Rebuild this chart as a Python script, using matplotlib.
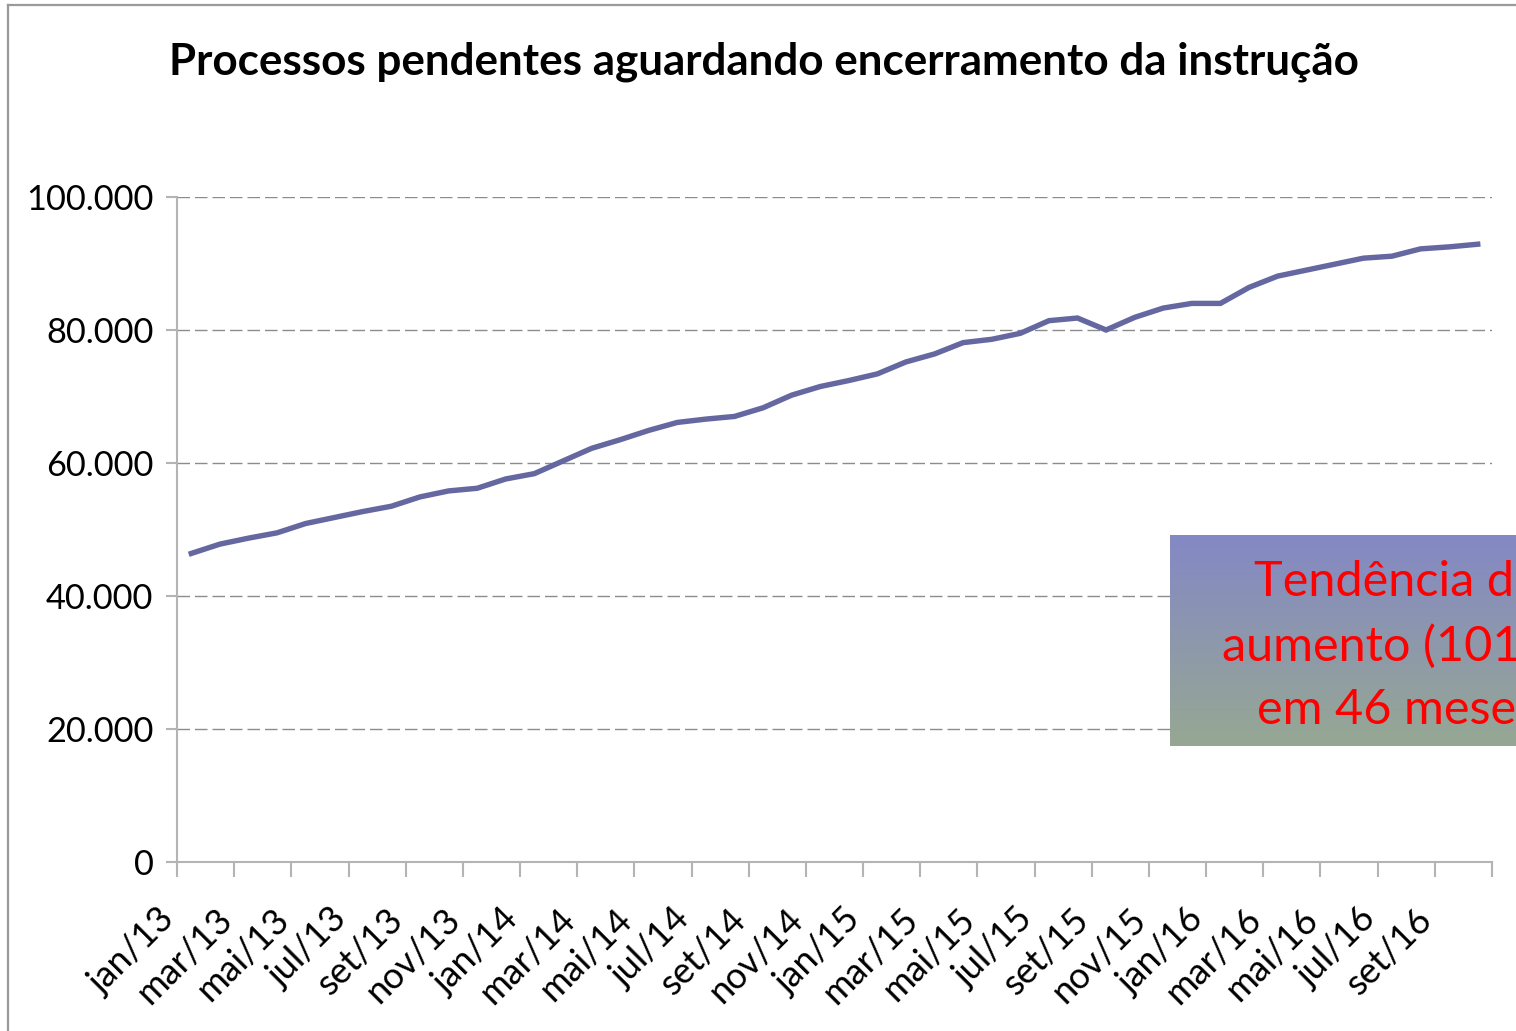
import matplotlib
matplotlib.use('Agg')
import matplotlib.pyplot as plt
import numpy as np
from matplotlib.lines import Line2D
import matplotlib.transforms as mtransforms

# ---------------- data ----------------
month_abbr = ['jan', 'fev', 'mar', 'abr', 'mai', 'jun', 'jul', 'ago', 'set', 'out', 'nov', 'dez']
months = [f'{month_abbr[m]}/{y}' for y in (13, 14, 15, 16) for m in range(12)][:46]

values = [46400, 47800, 48700, 49500, 50900, 51800, 52700, 53500, 54900, 55800,
          56200, 57600, 58400, 60300, 62200, 63500, 64900, 66100, 66600, 67000,
          68300, 70200, 71500, 72400, 73400, 75200, 76400, 78100, 78600, 79500,
          81400, 81800, 80000, 81900, 83300, 84000, 84000, 86400, 88100, 89000,
          89900, 90800, 91100, 92200, 92500, 92900]

yticks = [0, 20000, 40000, 60000, 80000, 100000]
ytick_labels = ['0', '20.000', '40.000', '60.000', '80.000', '100.000']

title = 'Processos pendentes aguardando encerramento da instrução'
note_lines = ['Tendência de', 'aumento (101%)', 'em 46 meses']

# ---------------- figure ----------------
W, H = 1516, 1031
plt.rcParams['font.family'] = ['Lato', 'DejaVu Sans']
fig = plt.figure(figsize=(W / 100, H / 100), dpi=100)
renderer = fig.canvas.get_renderer()


def fit_size(txt, target_w, weight='normal', base=20):
    t = fig.text(0, 0, txt, fontsize=base, fontweight=weight)
    w = t.get_window_extent(renderer).width
    t.remove()
    return base * target_w / w


def px(x, y):
    return x / W, 1 - y / H


# outer chart frame
frame_col = '#9a9a9a'
fig.add_artist(Line2D([8 / W, 8 / W], [0, 1 - 5 / H], transform=fig.transFigure, color=frame_col, lw=1.6))
fig.add_artist(Line2D([8 / W, 1], [1 - 5 / H, 1 - 5 / H], transform=fig.transFigure, color=frame_col, lw=1.6))

# title
tsize = fit_size(title, 1192, weight='bold')
fig.text(*px(764, 62), title, fontsize=tsize, fontweight='bold', ha='center', va='center', color='black')

# plot area
x0, x1, ytop, ybot = 177, 1492, 197, 862
ax = fig.add_axes([x0 / W, 1 - ybot / H, (x1 - x0) / W, (ybot - ytop) / H])
n = len(values)
ax.set_xlim(-0.5, n - 0.5)
ax.set_ylim(0, 100000)

axis_col = '#b4b4b4'
for s in ('top', 'right'):
    ax.spines[s].set_visible(False)
for s in ('left', 'bottom'):
    ax.spines[s].set_color(axis_col)
    ax.spines[s].set_linewidth(1.5)

# gridlines
for yv in yticks[1:]:
    ax.axhline(yv, color='#8c8c8c', lw=1.0, dashes=(9, 3.6), zorder=1)

ax.plot(np.arange(n), values, color='#6568a0', lw=3.9, solid_joinstyle='miter', zorder=3)

# y ticks
ysize = fit_size('100.000', 128)
ax.set_yticks(yticks)
ax.set_yticklabels(ytick_labels, fontsize=ysize)
ax.tick_params(axis='y', direction='out', length=8, width=1.5, color=axis_col, pad=9)

# x ticks at group boundaries
ax.set_xticks(np.arange(-0.5, n, 2))
ax.set_xticklabels([])
ax.tick_params(axis='x', direction='out', length=11, width=1.5, color=axis_col)

xsize = ysize * 1.05
base_tr = ax.get_xaxis_transform()
for i in range(0, n, 2):
    tr = mtransforms.offset_copy(base_tr, fig=fig, x=-22, y=-52, units='dots')
    ax.text(i, 0, months[i], transform=tr, fontsize=xsize, rotation=45,
            rotation_mode='anchor', ha='right', va='center', clip_on=False)

# annotation box with vertical gradient (cut at the figure's right edge, as in the source)
bx0, by0, by1 = 1170, 535, 746
bx1 = 1640
bax = fig.add_axes([bx0 / W, 1 - by1 / H, (bx1 - bx0) / W, (by1 - by0) / H])
bax.set_axis_off()
top_c = np.array([0x84, 0x88, 0xc5]) / 255
bot_c = np.array([0x96, 0xa8, 0x93]) / 255
tt = np.linspace(0, 1, 256)[:, None]
grad = (top_c[None, :] * (1 - tt) + bot_c[None, :] * tt)[:, None, :]
bax.imshow(grad, aspect='auto', extent=[0, 1, 0, 1], interpolation='bilinear')
bax.set_xlim(0, 1)
bax.set_ylim(0, 1)
nsize = fit_size('aumento (101%)', 351)
cx = (1397 - bx0) / (bx1 - bx0)
line_y = [582, 646, 710]
for ln, yy in zip(note_lines, line_y):
    bax.text(cx, (by1 - yy) / (by1 - by0), ln, fontsize=nsize, color='#ff0000',
             ha='center', va='center', transform=bax.transAxes)

fig.savefig('out.png', dpi=100)
